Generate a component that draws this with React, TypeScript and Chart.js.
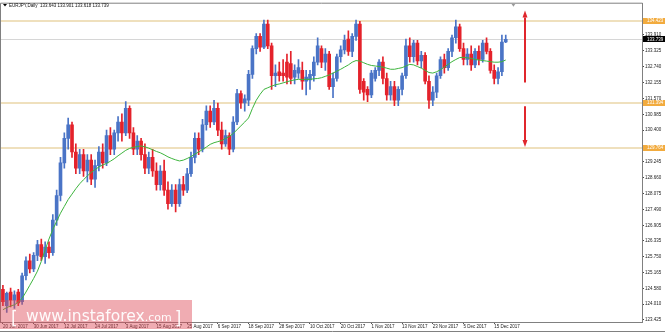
import React, { useEffect, useRef } from 'react';
import { Chart, registerables } from 'chart.js';

Chart.register(...registerables);

const symbolTitle = 'EURJPY,Daily';
const lastQuote = [133.643, 133.901, 133.618, 133.739];

const xTickLabels = [
  '20 Jun 2017', '30 Jun 2017', '12 Jul 2017', '24 Jul 2017', '3 Aug 2017', '15 Aug 2017',
  '25 Aug 2017', '6 Sep 2017', '18 Sep 2017', '28 Sep 2017', '10 Oct 2017', '20 Oct 2017',
  '1 Nov 2017', '13 Nov 2017', '23 Nov 2017', '5 Dec 2017', '15 Dec 2017',
];

const yTickValues = [
  133.91, 133.325, 132.74, 132.155, 131.57, 130.985, 130.4, 129.245, 128.66, 128.075,
  127.49, 126.905, 126.335, 125.75, 125.165, 124.58, 124.01, 123.425,
];

const levelLines = [134.423, 131.394, 129.764];
const currentPrice = 133.739;
const arrowUp = [132.15, 134.8];
const arrowDown = [131.28, 129.78];

const open = [
  124.55, 123.95, 124.45, 124.15, 124.45, 124.10, 125.05, 125.60, 125.30, 125.80,
  126.20, 125.75, 126.10, 125.90, 127.10, 128.00, 129.20, 130.10, 130.60, 129.60,
  129.00, 129.50, 128.90, 129.30, 128.60, 129.10, 129.60, 129.20, 130.20, 129.70,
  130.30, 130.70, 130.30, 131.20, 130.30, 129.70, 130.00, 129.50, 129.00, 129.40,
  128.90, 128.40, 128.90, 128.20, 127.70, 128.20, 127.70, 128.40, 128.20, 128.80,
  129.40, 130.10, 129.70, 130.60, 131.10, 130.70, 131.20, 130.40, 129.90, 130.20,
  129.70, 130.70, 131.75, 131.40, 131.50, 132.45, 133.40, 133.85, 133.45, 134.30,
  133.50, 132.40, 132.55, 132.50, 132.90, 132.85, 132.35, 132.50, 132.60, 132.20,
  132.25, 132.40, 132.90, 133.40, 132.90, 133.20, 132.00, 132.30, 133.10, 133.35,
  133.75, 133.30, 133.85, 134.30, 132.20, 131.90, 131.70, 132.30, 132.60, 132.90,
  132.30, 131.70, 132.00, 131.50, 131.90, 132.40, 133.50, 133.10, 133.60, 132.95,
  133.15, 132.20, 131.50, 131.80, 132.40, 133.00, 132.70, 133.30, 133.80, 134.20,
  133.40, 133.00, 133.20, 132.80, 133.30, 133.00, 133.60, 133.30, 132.60, 132.30,
  132.55, 133.643,
];

const high = [
  124.70, 124.45, 124.60, 124.50, 124.55, 125.15, 125.75, 125.85, 125.90, 126.35,
  126.40, 126.30, 126.30, 127.30, 128.20, 129.40, 130.30, 130.85, 130.70, 129.90,
  129.70, 129.70, 129.50, 129.50, 129.30, 129.80, 129.90, 130.40, 130.50, 130.40,
  130.90, 131.00, 131.45, 131.30, 130.50, 130.20, 130.10, 129.90, 129.60, 129.70,
  129.20, 129.10, 129.30, 128.50, 128.40, 128.40, 128.60, 128.70, 129.00, 129.60,
  130.30, 130.30, 130.80, 131.30, 131.30, 131.50, 131.40, 130.70, 130.40, 130.30,
  130.90, 131.90, 131.85, 131.70, 132.60, 133.50, 133.95, 133.95, 134.45, 134.45,
  133.60, 132.80, 132.90, 133.00, 133.20, 133.30, 132.80, 133.00, 132.90, 132.60,
  132.60, 133.10, 133.80, 133.50, 133.40, 133.30, 132.50, 133.20, 133.50, 133.90,
  134.05, 133.95, 134.45, 134.40, 132.30, 132.00, 132.60, 132.70, 133.00, 133.10,
  132.50, 132.20, 132.20, 132.00, 132.50, 133.75, 133.80, 133.70, 133.70, 133.30,
  133.25, 132.40, 132.00, 132.50, 133.10, 133.20, 133.40, 133.90, 134.45, 134.30,
  133.60, 133.40, 133.50, 133.40, 133.50, 133.70, 133.80, 133.40, 132.80, 132.70,
  133.90, 133.901,
];

const low = [
  123.95, 123.70, 123.90, 123.85, 123.95, 124.00, 124.90, 125.15, 125.20, 125.60,
  125.60, 125.50, 125.70, 125.80, 126.90, 127.80, 129.00, 129.70, 129.40, 128.80,
  128.80, 128.70, 128.50, 128.40, 128.30, 128.90, 129.00, 129.10, 129.50, 129.50,
  130.00, 130.00, 130.20, 130.10, 129.50, 129.50, 129.30, 128.80, 128.80, 128.70,
  128.20, 128.20, 128.00, 127.50, 127.60, 127.40, 127.60, 128.00, 128.10, 128.70,
  129.20, 129.50, 129.60, 130.40, 130.50, 130.60, 130.20, 129.70, 129.80, 129.50,
  129.60, 130.60, 131.20, 131.10, 131.30, 132.30, 133.20, 133.30, 133.40, 133.40,
  131.90, 132.00, 132.20, 132.20, 132.10, 132.10, 132.10, 132.30, 131.90, 131.70,
  131.90, 132.20, 132.80, 132.70, 132.60, 131.90, 131.60, 132.20, 132.90, 133.20,
  133.15, 133.10, 133.70, 131.75, 131.50, 131.45, 131.60, 132.20, 132.40, 132.10,
  131.50, 131.50, 131.30, 131.30, 131.70, 132.30, 132.90, 132.90, 132.80, 132.70,
  132.10, 131.20, 131.30, 131.60, 132.30, 132.50, 132.60, 133.10, 133.60, 133.30,
  132.80, 132.80, 132.60, 132.70, 132.80, 132.90, 133.20, 132.50, 132.10, 132.10,
  132.40, 133.618,
];

const close = [
  124.10, 124.40, 124.15, 124.35, 124.05, 125.05, 125.60, 125.30, 125.80, 126.20,
  125.75, 126.10, 125.90, 127.10, 128.00, 129.20, 130.10, 130.60, 129.60, 129.00,
  129.50, 128.90, 129.30, 128.60, 129.10, 129.60, 129.20, 130.20, 129.70, 130.30,
  130.70, 130.30, 131.20, 130.30, 129.70, 130.00, 129.50, 129.00, 129.40, 128.90,
  128.40, 128.90, 128.20, 127.70, 128.20, 127.70, 128.40, 128.20, 128.80, 129.40,
  130.10, 129.70, 130.60, 131.10, 130.70, 131.20, 130.40, 129.90, 130.20, 129.70,
  130.70, 131.75, 131.40, 131.55, 132.45, 133.40, 133.85, 133.45, 134.30, 133.50,
  132.40, 132.50, 132.40, 132.40, 132.35, 132.30, 132.60, 132.70, 132.20, 132.35,
  132.45, 132.90, 133.50, 132.90, 133.20, 132.00, 132.30, 133.10, 133.35, 133.70,
  133.30, 133.85, 134.30, 131.90, 131.80, 131.70, 132.50, 132.60, 132.90, 132.30,
  131.70, 132.00, 131.50, 131.90, 132.40, 133.50, 133.10, 133.60, 132.95, 133.15,
  132.20, 131.50, 131.80, 132.40, 133.00, 132.70, 133.30, 133.80, 134.20, 133.40,
  133.00, 133.20, 132.80, 133.30, 133.00, 133.60, 133.30, 132.60, 132.30, 132.55,
  133.64, 133.739,
];

const movingAverage = [
  123.80, 123.88, 123.94, 123.98, 124.08, 124.22, 124.45, 124.70, 124.95, 125.22,
  125.58, 126.00, 126.40, 126.75, 127.05, 127.35, 127.60, 127.85, 128.05, 128.25,
  128.43, 128.58, 128.72, 128.85, 128.95, 129.05, 129.12, 129.18, 129.26, 129.35,
  129.46, 129.56, 129.66, 129.73, 129.77, 129.80, 129.82, 129.79, 129.74, 129.68,
  129.62, 129.57, 129.50, 129.42, 129.36, 129.31, 129.27, 129.30, 129.36, 129.43,
  129.52, 129.60, 129.69, 129.78, 129.88, 129.94, 129.98, 130.02, 130.10, 130.17,
  130.28, 130.42, 130.56, 130.70, 130.85, 131.20, 131.50, 131.72, 131.90, 131.96,
  132.02, 132.07, 132.10, 132.14, 132.18, 132.22, 132.25, 132.27, 132.27, 132.27,
  132.27, 132.29, 132.30, 132.33, 132.38, 132.43, 132.50, 132.57, 132.64, 132.72,
  132.80, 132.90, 132.96, 132.94, 132.88, 132.82, 132.78, 132.76, 132.74, 132.72,
  132.68, 132.64, 132.64, 132.67, 132.70, 132.76, 132.82, 132.80, 132.74, 132.68,
  132.60, 132.52, 132.50, 132.55, 132.62, 132.72, 132.82, 132.92, 133.00, 133.07,
  133.08, 133.06, 133.04, 133.00, 132.98, 132.96, 132.94, 132.92, 132.90, 132.90,
  132.92, 132.98,
];

const TOTAL_SLOTS = 167;
const BARS_PER_LABEL = 8;
const ARROW_SLOT = 136;
const SHIFT_MARK_SLOT = 133;

const BLUE = '#4a74c6';
const RED = '#e4222b';
const FONT = 'Liberation Sans';

const slotLabels = Array.from({ length: TOTAL_SLOTS }, (_, i) =>
  i % BARS_PER_LABEL === 0 && xTickLabels[i / BARS_PER_LABEL] ? xTickLabels[i / BARS_PER_LABEL] : ''
);
const labelSlots = xTickLabels.map((_, k) => k * BARS_PER_LABEL);
const candleColors = open.map((o, i) => (close[i] >= o ? BLUE : RED));

function drawArrow(ctx: CanvasRenderingContext2D, x: number, y0: number, y1: number) {
  const dir = y1 < y0 ? -1 : 1;
  const headLen = 7;
  const headHalf = 2.5;
  ctx.beginPath();
  ctx.moveTo(x, y0);
  ctx.lineTo(x, y1 - dir * headLen);
  ctx.stroke();
  ctx.beginPath();
  ctx.moveTo(x, y1);
  ctx.lineTo(x - headHalf, y1 - dir * headLen);
  ctx.lineTo(x + headHalf, y1 - dir * headLen);
  ctx.closePath();
  ctx.fill();
}

const overlayPlugin = {
  id: 'overlay',
  beforeDatasetsDraw(chart: any) {
    const { ctx, chartArea: a, scales } = chart;
    const y = scales.y;
    ctx.save();
    ctx.strokeStyle = '#efe0bd';
    ctx.lineWidth = 2;
    levelLines.forEach((v) => {
      const py = Math.round(y.getPixelForValue(v));
      ctx.beginPath();
      ctx.moveTo(a.left, py);
      ctx.lineTo(a.right, py);
      ctx.stroke();
    });
    ctx.strokeStyle = '#d6d6d6';
    ctx.lineWidth = 1;
    const cy = Math.round(y.getPixelForValue(currentPrice)) + 0.5;
    ctx.beginPath();
    ctx.moveTo(a.left, cy);
    ctx.lineTo(a.right, cy);
    ctx.stroke();
    ctx.restore();
  },
  afterDraw(chart: any) {
    const { ctx, chartArea: a, scales, width, height } = chart;
    const x = scales.x;
    const y = scales.y;
    ctx.save();

    // arrows
    ctx.strokeStyle = '#e0262c';
    ctx.fillStyle = '#e0262c';
    ctx.lineWidth = 2;
    const ax = Math.round(x.getPixelForValue(ARROW_SLOT));
    drawArrow(ctx, ax, y.getPixelForValue(arrowUp[0]), y.getPixelForValue(arrowUp[1]));
    drawArrow(ctx, ax, y.getPixelForValue(arrowDown[0]), y.getPixelForValue(arrowDown[1]));

    // frame
    ctx.strokeStyle = '#808080';
    ctx.lineWidth = 1;
    ctx.beginPath();
    ctx.moveTo(a.left - 0.5, a.bottom + 0.5);
    ctx.lineTo(a.left - 0.5, a.top - 0.5);
    ctx.lineTo(a.right + 0.5, a.top - 0.5);
    ctx.moveTo(0, a.bottom + 0.5);
    ctx.lineTo(a.right + 1, a.bottom + 0.5);
    ctx.moveTo(0, height - 1.5);
    ctx.lineTo(width, height - 1.5);
    ctx.stroke();

    // shift marker
    const sx = x.getPixelForValue(SHIFT_MARK_SLOT);
    ctx.fillStyle = '#9a9a9a';
    ctx.beginPath();
    ctx.moveTo(sx - 2, a.top);
    ctx.lineTo(sx + 2, a.top);
    ctx.lineTo(sx, a.top + 3);
    ctx.closePath();
    ctx.fill();

    // price labels on axis
    ctx.font = `4.5px "${FONT}"`;
    ctx.textBaseline = 'middle';
    ctx.textAlign = 'left';
    const boxLabel = (v: number, bg: string) => {
      const py = y.getPixelForValue(v);
      ctx.fillStyle = bg;
      ctx.fillRect(a.right + 1, Math.round(py) - 3, width - a.right - 1, 6);
      ctx.fillStyle = '#ffffff';
      ctx.fillText(v.toFixed(3), a.right + 5, py);
    };
    levelLines.forEach((v) => boxLabel(v, '#f2ab3e'));
    boxLabel(currentPrice, '#000000');

    // header
    ctx.fillStyle = '#000000';
    ctx.beginPath();
    ctx.moveTo(3, 4);
    ctx.lineTo(7, 4);
    ctx.lineTo(5, 6.5);
    ctx.closePath();
    ctx.fill();
    ctx.fillStyle = '#111111';
    ctx.fillText(`${symbolTitle}  ${lastQuote.map((v) => v.toFixed(3)).join(' ')}`, 9, 5.5);

    // watermark
    ctx.fillStyle = 'rgba(222, 70, 85, 0.45)';
    ctx.fillRect(0, 300, 192, 29);
    ctx.fillStyle = 'rgba(255,255,255,0.95)';
    ctx.textBaseline = 'alphabetic';
    ctx.font = '17px "DejaVu Sans"';
    ctx.fillText('[', 11, 324);
    ctx.font = '15.5px "DejaVu Sans"';
    ctx.fillText('www.instaforex', 26, 321);
    let wx = 26 + ctx.measureText('www.instaforex').width;
    ctx.font = '11px "DejaVu Sans"';
    ctx.fillText('.com', wx, 321);
    wx += ctx.measureText('.com').width + 3;
    ctx.font = '17px "DejaVu Sans"';
    ctx.fillText(']', wx, 324);

    ctx.restore();
  },
};

export default function App() {
  const canvasRef = useRef<HTMLCanvasElement | null>(null);

  useEffect(() => {
    document.body.style.margin = '0';
    const canvas = canvasRef.current;
    if (!canvas) return;
    const tickFont = { family: FONT, size: 4.5 };
    const chart = new Chart(canvas, {
      type: 'bar',
      data: {
        labels: slotLabels,
        datasets: [
          {
            type: 'line',
            data: movingAverage,
            borderColor: '#3db43d',
            borderWidth: 1,
            pointRadius: 0,
            tension: 0,
            order: 0,
          } as any,
          {
            type: 'bar',
            data: open.map((o, i) => [o, close[i]]),
            backgroundColor: candleColors,
            barThickness: 3,
            grouped: false,
            minBarLength: 1,
            borderWidth: 0,
            order: 1,
          } as any,
          {
            type: 'bar',
            data: low.map((l, i) => [l, high[i]]),
            backgroundColor: candleColors,
            barThickness: 1,
            grouped: false,
            borderWidth: 0,
            order: 2,
          } as any,
        ],
      },
      options: {
        animation: false,
        responsive: false,
        maintainAspectRatio: false,
        layout: { padding: { left: 1, top: 1, right: 0, bottom: 0 } },
        plugins: { legend: { display: false }, tooltip: { enabled: false } },
        scales: {
          x: {
            type: 'category',
            offset: true,
            grid: {
              display: true,
              drawOnChartArea: false,
              drawTicks: true,
              tickLength: 2,
              color: '#555555',
              offset: false,
            },
            border: { display: false },
            ticks: {
              autoSkip: false,
              maxRotation: 0,
              minRotation: 0,
              align: 'start',
              padding: 0,
              font: tickFont,
              color: '#222222',
            },
            afterBuildTicks: (s: any) => {
              s.ticks = labelSlots.map((v) => ({ value: v }));
            },
            afterFit: (s: any) => {
              s.height = 11;
            },
          },
          y: {
            position: 'right',
            min: 123.35,
            max: 135.05,
            grid: { drawOnChartArea: false, drawTicks: true, tickLength: 2, color: '#444444' },
            border: { display: true, color: '#808080', width: 1 },
            ticks: {
              autoSkip: false,
              padding: 1,
              font: tickFont,
              color: '#222222',
              callback: (v: any) => Number(v).toFixed(3),
            },
            afterBuildTicks: (s: any) => {
              s.ticks = yTickValues.map((v) => ({ value: v }));
            },
            afterFit: (s: any) => {
              s.width = 23;
            },
          },
        },
      } as any,
      plugins: [overlayPlugin],
    });
    return () => chart.destroy();
  }, []);

  return (
    <div style={{ width: 665, height: 333, background: '#ffffff' }}>
      <canvas ref={canvasRef} width={665} height={333} style={{ display: 'block' }} />
    </div>
  );
}
